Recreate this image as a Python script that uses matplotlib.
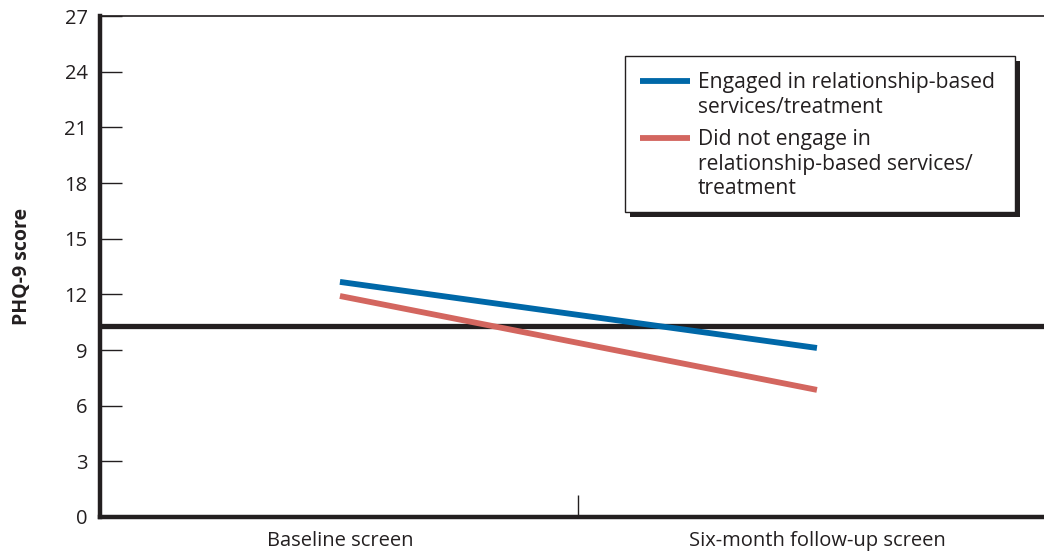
import matplotlib
matplotlib.use("Agg")
import matplotlib.pyplot as plt
import matplotlib.transforms as mtransforms
from matplotlib.patches import Rectangle
from matplotlib.lines import Line2D

plt.rcParams['font.family'] = ['Open Sans', 'DejaVu Sans']

categories = ["Baseline screen", "Six-month follow-up screen"]
engaged = [12.67, 9.11]
not_engaged = [11.91, 6.85]
threshold = 10.3
series_labels = ["Engaged in relationship-based\nservices/treatment",
                 "Did not engage in\nrelationship-based services/\ntreatment"]
colors = ["#0068A8", "#D3665F"]
yticks = [0, 3, 6, 9, 12, 15, 18, 21, 24, 27]

W, H = 1044, 552
def fx(px): return px / W
def fy(py): return 1 - py / H

fig = plt.figure(figsize=(10.44, 5.52), dpi=100)
ax = fig.add_axes([100/1044, 1-517/552, 944/1044, 501/552])

x = [0, 1]
ax.plot(x, engaged, color=colors[0], lw=4.2, solid_capstyle='butt')
ax.plot(x, not_engaged, color=colors[1], lw=4.2, solid_capstyle='butt')
ax.axhline(threshold, color="#231F20", lw=3.8, zorder=1)

ax.set_xlim(-0.503, 1.476)
ax.set_ylim(0, 27)
ax.set_yticks(yticks)
ax.set_yticklabels([str(t) for t in yticks])
ax.tick_params(axis='y', direction='in', length=16, width=1, colors="#231F20",
               labelsize=14.5, pad=9)
ax.set_xticks([0.5])
ax.set_xticklabels([""])
ax.tick_params(axis='x', direction='in', length=16, width=1, colors="#231F20")
blend = mtransforms.blended_transform_factory(ax.transData, fig.transFigure)
for xi, lab in zip(x, categories):
    ax.text(xi, fy(541), lab, transform=blend,
            ha='center', va='center', fontsize=14.5, color="#231F20")

ax.spines['left'].set_linewidth(3.2)
ax.spines['bottom'].set_linewidth(3.2)
ax.spines['top'].set_linewidth(1.2)
ax.spines['right'].set_visible(False)
for s in ax.spines.values():
    s.set_color("#231F20")

fig.text(fx(22), fy(266), "PHQ-9 score", rotation=90, ha='center', va='center',
         fontsize=14, fontweight='bold', color="#231F20")

# Legend box (figure pixel coordinates)
lx0, lx1, ly0, ly1 = 625, 1015, 56, 212
fig.patches.append(Rectangle((fx(lx0 + 5), fy(ly1 + 5)), fx(lx1 - lx0), (ly1 - ly0) / H,
                             transform=fig.transFigure, facecolor="#231F20",
                             edgecolor="none", zorder=5))
fig.patches.append(Rectangle((fx(lx0), fy(ly1)), fx(lx1 - lx0), (ly1 - ly0) / H,
                             transform=fig.transFigure, facecolor="white",
                             edgecolor="#231F20", lw=1, zorder=6))
entry_y = [81, 138]
for lab, c, ey in zip(series_labels, colors, entry_y):
    fig.lines.append(Line2D([fx(640), fx(690)], [fy(ey), fy(ey)], color=c, lw=4.2,
                            transform=fig.transFigure, zorder=7,
                            solid_capstyle='butt'))
    fig.text(fx(698), fy(ey - 9), lab, ha='left', va='top', fontsize=15.2,
             color="#231F20", linespacing=1.22, zorder=7)

fig.savefig("out.png", dpi=100)
